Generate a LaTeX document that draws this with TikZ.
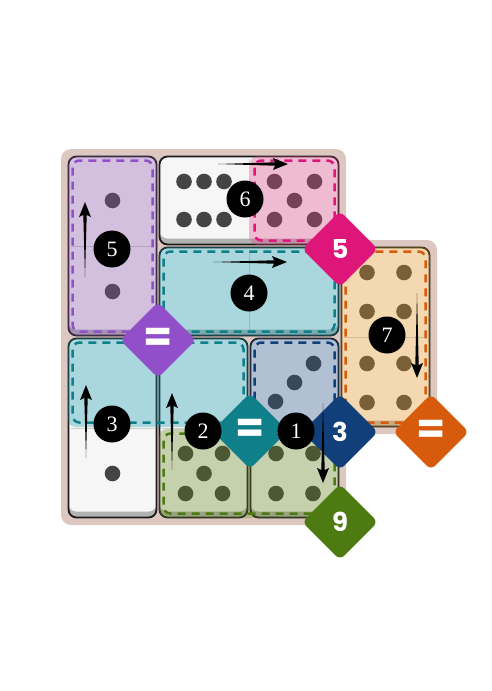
\documentclass[tikz,border=0pt]{standalone}
\usepackage{fontspec}
\newfontfamily\dfont{Poppins}
\newfontfamily\nfont{Liberation Serif}
\usetikzlibrary{shapes.geometric}
\definecolor{board}{HTML}{DCC7C1}
\definecolor{tilewhite}{HTML}{F6F6F6}
\definecolor{tileshade}{HTML}{B2B2B2}
\definecolor{tileline}{HTML}{1C1C1C}
\definecolor{pipc}{HTML}{444444}
% region fills (drawn translucent)
\definecolor{fPurple}{HTML}{8A51AC}
\definecolor{fPink}{HTML}{E24081}
\definecolor{fCyan}{HTML}{0998A9}
\definecolor{fOrange}{HTML}{EE9B1D}
\definecolor{fBlue}{HTML}{23518A}
\definecolor{fGreen}{HTML}{5F8415}
% constraint colours
\definecolor{cPurple}{HTML}{9150C9}
\definecolor{cPink}{HTML}{DF167A}
\definecolor{cTeal}{HTML}{0F7F8A}
\definecolor{cNavy}{HTML}{103F79}
\definecolor{cOrange}{HTML}{D85B0D}
\definecolor{cGreen}{HTML}{4D7A11}
\newcommand\mytile[4]{%
  \fill[tileshade, rounded corners=8pt] (#1+1.5,#2+1.5) rectangle (#3-1.5,#4-1.5);
  \fill[tilewhite, rounded corners=8pt] (#1+1.5,#2+1.5) rectangle (#3-1.5,#4-7.5);
  \draw[tileline, line width=1.8pt, rounded corners=8pt] (#1+1.5,#2+1.5) rectangle (#3-1.5,#4-1.5);}
\newcommand\myregion[6]{%
  \fill[#5, fill opacity=0.32, rounded corners=8pt] (#1+1,#2+1) rectangle (#3-1,#4-1);
  \draw[#6, line width=2.5pt, dash pattern=on 8pt off 6pt, rounded corners=7pt] (#1+5.5,#2+5.5) rectangle (#3-5.5,#4-5.5);}
\newcommand\pip[2]{\fill[pipc] (#1,#2) circle[radius=7.8];}
\tikzset{
  numc/.style={circle, fill=black, text=white, minimum size=37pt, inner sep=0pt,
    font=\nfont\fontsize{22}{22}\selectfont},
  dia/.style={diamond, aspect=1, minimum size=76pt, inner sep=0pt, rounded corners=6pt,
    text=white, font=\dfont\bfseries\fontsize{26}{26}\selectfont},
  diaeq/.style={dia, font=\dfont\bfseries\fontsize{42}{42}\selectfont},
  divider/.style={gray, line width=0.6pt, opacity=0.35},
  pics/tarr/.style={code={\fill[black] (0,0) -- (#1-13,1.7) -- (#1-15,6) -- (#1,0) -- (#1-15,-6) -- (#1-13,-1.7) -- cycle;}}
}
\begin{document}
\begin{tikzpicture}[x=1pt,y=-1pt]
\path[use as bounding box] (0,0) rectangle (492,691);
% board
\fill[board, rounded corners=10pt] (61,149) rectangle (346,525);
\fill[board, rounded corners=10pt] (334,240) rectangle (437,434);
% tiles
\mytile{67}{155}{158}{337}
\mytile{158}{155}{340}{246}
\mytile{158}{246}{340}{337}
\mytile{340}{246}{431}{428}
\mytile{67}{337}{158}{519}
\mytile{158}{337}{249}{519}
\mytile{249}{337}{340}{519}
% dividers
\draw[divider] (71,246) -- (154,246);
\draw[divider] (249,159) -- (249,240);
\draw[divider] (249,250) -- (249,331);
\draw[divider] (344,337) -- (427,337);
\draw[divider] (71,428) -- (154,428);
\draw[divider] (162,428) -- (245,428);
\draw[divider] (253,428) -- (336,428);
% pips
\pip{112.5}{200.5}
\pip{112.5}{291.5}
\pip{184}{181.5}\pip{204}{181.5}\pip{224}{181.5}
\pip{184}{219.5}\pip{204}{219.5}\pip{224}{219.5}
\pip{274.5}{181.5}\pip{314.5}{181.5}\pip{294.5}{200.5}\pip{274.5}{219.5}\pip{314.5}{219.5}
\pip{367}{272.5}\pip{404}{272.5}\pip{367}{311.5}\pip{404}{311.5}
\pip{367}{363.5}\pip{404}{363.5}\pip{367}{402.5}\pip{404}{402.5}
\pip{112.5}{473.5}
\pip{185.5}{453.5}\pip{222.5}{453.5}\pip{204}{473.5}\pip{185.5}{493.5}\pip{222.5}{493.5}
\pip{313.5}{363.5}\pip{294.5}{382.5}\pip{275.5}{401.5}
\pip{276}{453.5}\pip{313}{453.5}\pip{276}{493.5}\pip{313}{493.5}
% regions
\myregion{67}{155}{158}{337}{fPurple}{cPurple}
\myregion{249}{155}{340}{246}{fPink}{cPink}
\myregion{158}{246}{340}{337}{fCyan}{cTeal}
\myregion{340}{246}{431}{428}{fOrange}{cOrange}
\myregion{67}{337}{249}{428}{fCyan}{cTeal}
\myregion{249}{337}{340}{428}{fBlue}{cNavy}
\myregion{158}{428}{340}{519}{fGreen}{cGreen}
% constraint diamonds
\node[diaeq, fill=cPurple] (dpurple) at (158,340) {=};
\node[dia, fill=cPink] (dpink) at (340,249) {5};
\node[diaeq, fill=cTeal] (dteal) at (250,431) {=};
\node[dia, fill=cNavy] (dnavy) at (340,432) {3};
\node[diaeq, fill=cOrange] (dorange) at (431,432) {=};
\node[dia, fill=cGreen] (dgreen) at (340,522) {9};
% arrows
\pic[rotate=90] at (85,277) {tarr=75};
\pic at (218,164) {tarr=70};
\pic at (213,262) {tarr=74};
\pic[rotate=-90] at (417,293) {tarr=85};
\pic[rotate=90] at (86,458) {tarr=73};
\pic[rotate=90] at (172,470) {tarr=77};
\pic[rotate=-90] at (323,403) {tarr=80};
% domino numbers
\node[numc] (n5) at (112,249) {5};
\node[numc] (n6) at (245,199) {6};
\node[numc] (n4) at (249,293) {4};
\node[numc] (n7) at (387,335) {7};
\node[numc] (n3) at (112,424) {3};
\node[numc] (n2) at (203,431) {2};
\node[numc] (n1) at (296,431) {1};
\end{tikzpicture}
\end{document}
